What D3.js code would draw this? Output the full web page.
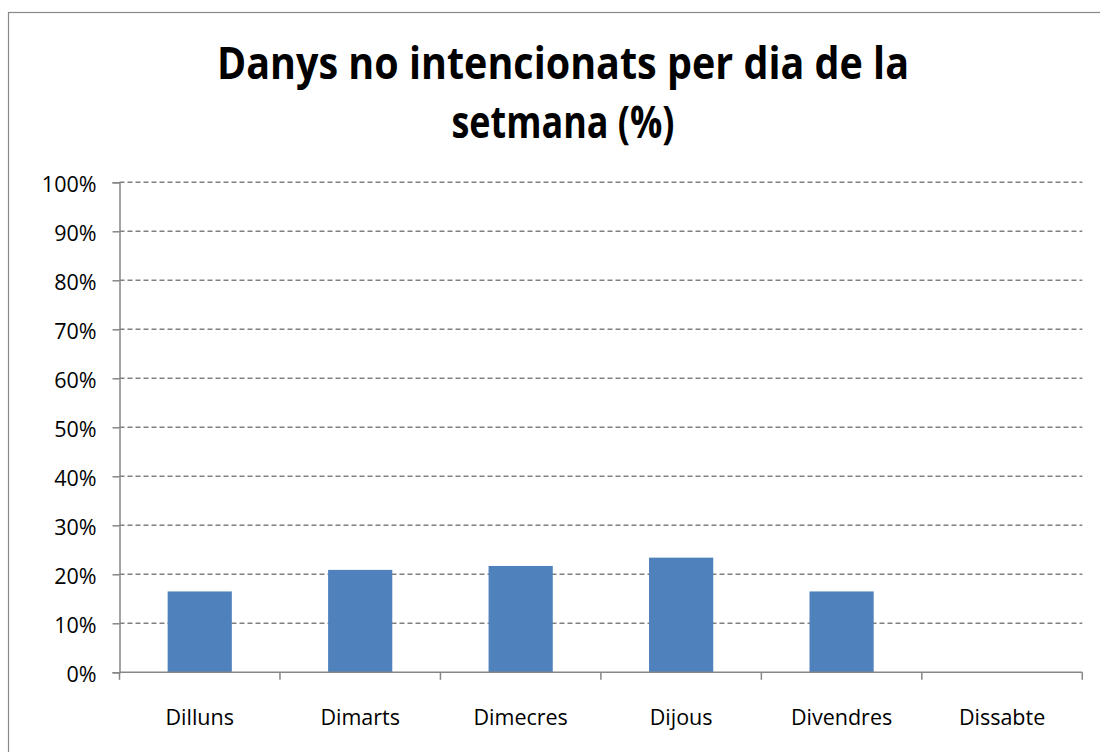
<!DOCTYPE html>
<html><head><meta charset="utf-8">
<script src="https://cdn.jsdelivr.net/npm/d3@7"></script>
<style>html,body{margin:0;padding:0;background:#fff;} svg{display:block;}</style>
</head><body>
<script>
const categories = ["Dilluns","Dimarts","Dimecres","Dijous","Divendres","Dissabte"];
const values = [16.5, 20.9, 21.7, 23.4, 16.5, 0];
const yTicks = [0,10,20,30,40,50,60,70,80,90,100];
const titleLines = ["Danys no intencionats per dia de la", "setmana (%)"];

const W = 1100, H = 752;
const svg = d3.select("body").append("svg").attr("width", W).attr("height", H);

// outer chart border (only top & left visible in reference)
svg.append("rect").attr("x", 8.5).attr("y", 12.5).attr("width", 1200).attr("height", 900)
  .attr("fill", "#fff").attr("stroke", "#898989").attr("stroke-width", 1.2);

const x0 = 119.5, x1 = 1082.3, yTop = 182.3, yBot = 672.3;
const x = d3.scaleBand().domain(categories).range([x0, x1]).paddingInner(0.6).paddingOuter(0.3);
const y = d3.scaleLinear().domain([0, 100]).range([yBot, yTop]);

// title
const tLens = [692, 223];
const tY = [79, 138];
svg.append("g").selectAll("text").data(titleLines).join("text")
  .attr("x", 563).attr("y", (d,i) => tY[i])
  .attr("text-anchor", "middle")
  .attr("font-family", "'Open Sans', 'Noto Sans', sans-serif")
  .attr("font-weight", 700).attr("font-size", 45)
  .attr("textLength", (d,i) => tLens[i]).attr("lengthAdjust", "spacingAndGlyphs")
  .attr("fill", "#000").text(d => d);

// gridlines
svg.append("g").selectAll("line").data(yTicks.filter(t => t > 0)).join("line")
  .attr("x1", x0).attr("x2", x1)
  .attr("y1", d => y(d)).attr("y2", d => y(d))
  .attr("stroke", "#808080").attr("stroke-width", 1.5).attr("stroke-dasharray", "5,3");

// bars
svg.append("g").selectAll("rect").data(values).join("rect")
  .attr("x", (d,i) => x(categories[i]))
  .attr("y", d => y(d))
  .attr("width", x.bandwidth())
  .attr("height", d => y(0) - y(d))
  .attr("fill", "#4f81bd");

// y axis
const yAxis = d3.axisLeft(y).tickValues(yTicks).tickFormat(d => d + "%").tickSize(7).tickPadding(16);
const gy = svg.append("g").attr("transform", `translate(${x0},0)`).call(yAxis);
gy.select(".domain").attr("stroke", "#868686").attr("stroke-width", 1.5);
gy.selectAll(".tick line").attr("stroke", "#868686").attr("stroke-width", 1.5);
gy.selectAll(".tick text")
  .attr("font-family", "'Open Sans', 'Noto Sans', sans-serif").attr("font-size", 21.5)
  .attr("fill", "#000").attr("dy", null).attr("y", 9.4).attr("dominant-baseline", "auto");

// x axis line
const boundaries = d3.range(categories.length + 1).map(i => x0 + i * x.step());
svg.append("line").attr("x1", x0).attr("x2", x1).attr("y1", yBot).attr("y2", yBot)
  .attr("stroke", "#868686").attr("stroke-width", 1.5);
svg.append("g").selectAll("line").data(boundaries).join("line")
  .attr("x1", d => d).attr("x2", d => d).attr("y1", yBot).attr("y2", yBot + 7.5)
  .attr("stroke", "#868686").attr("stroke-width", 1.5);

// x labels
svg.append("g").selectAll("text").data(categories).join("text")
  .attr("x", d => x(d) + x.bandwidth() / 2).attr("y", 725)
  .attr("text-anchor", "middle")
  .attr("font-family", "'Open Sans', 'Noto Sans', sans-serif").attr("font-size", 21.5)
  .attr("fill", "#000").text(d => d);
</script>
</body></html>
